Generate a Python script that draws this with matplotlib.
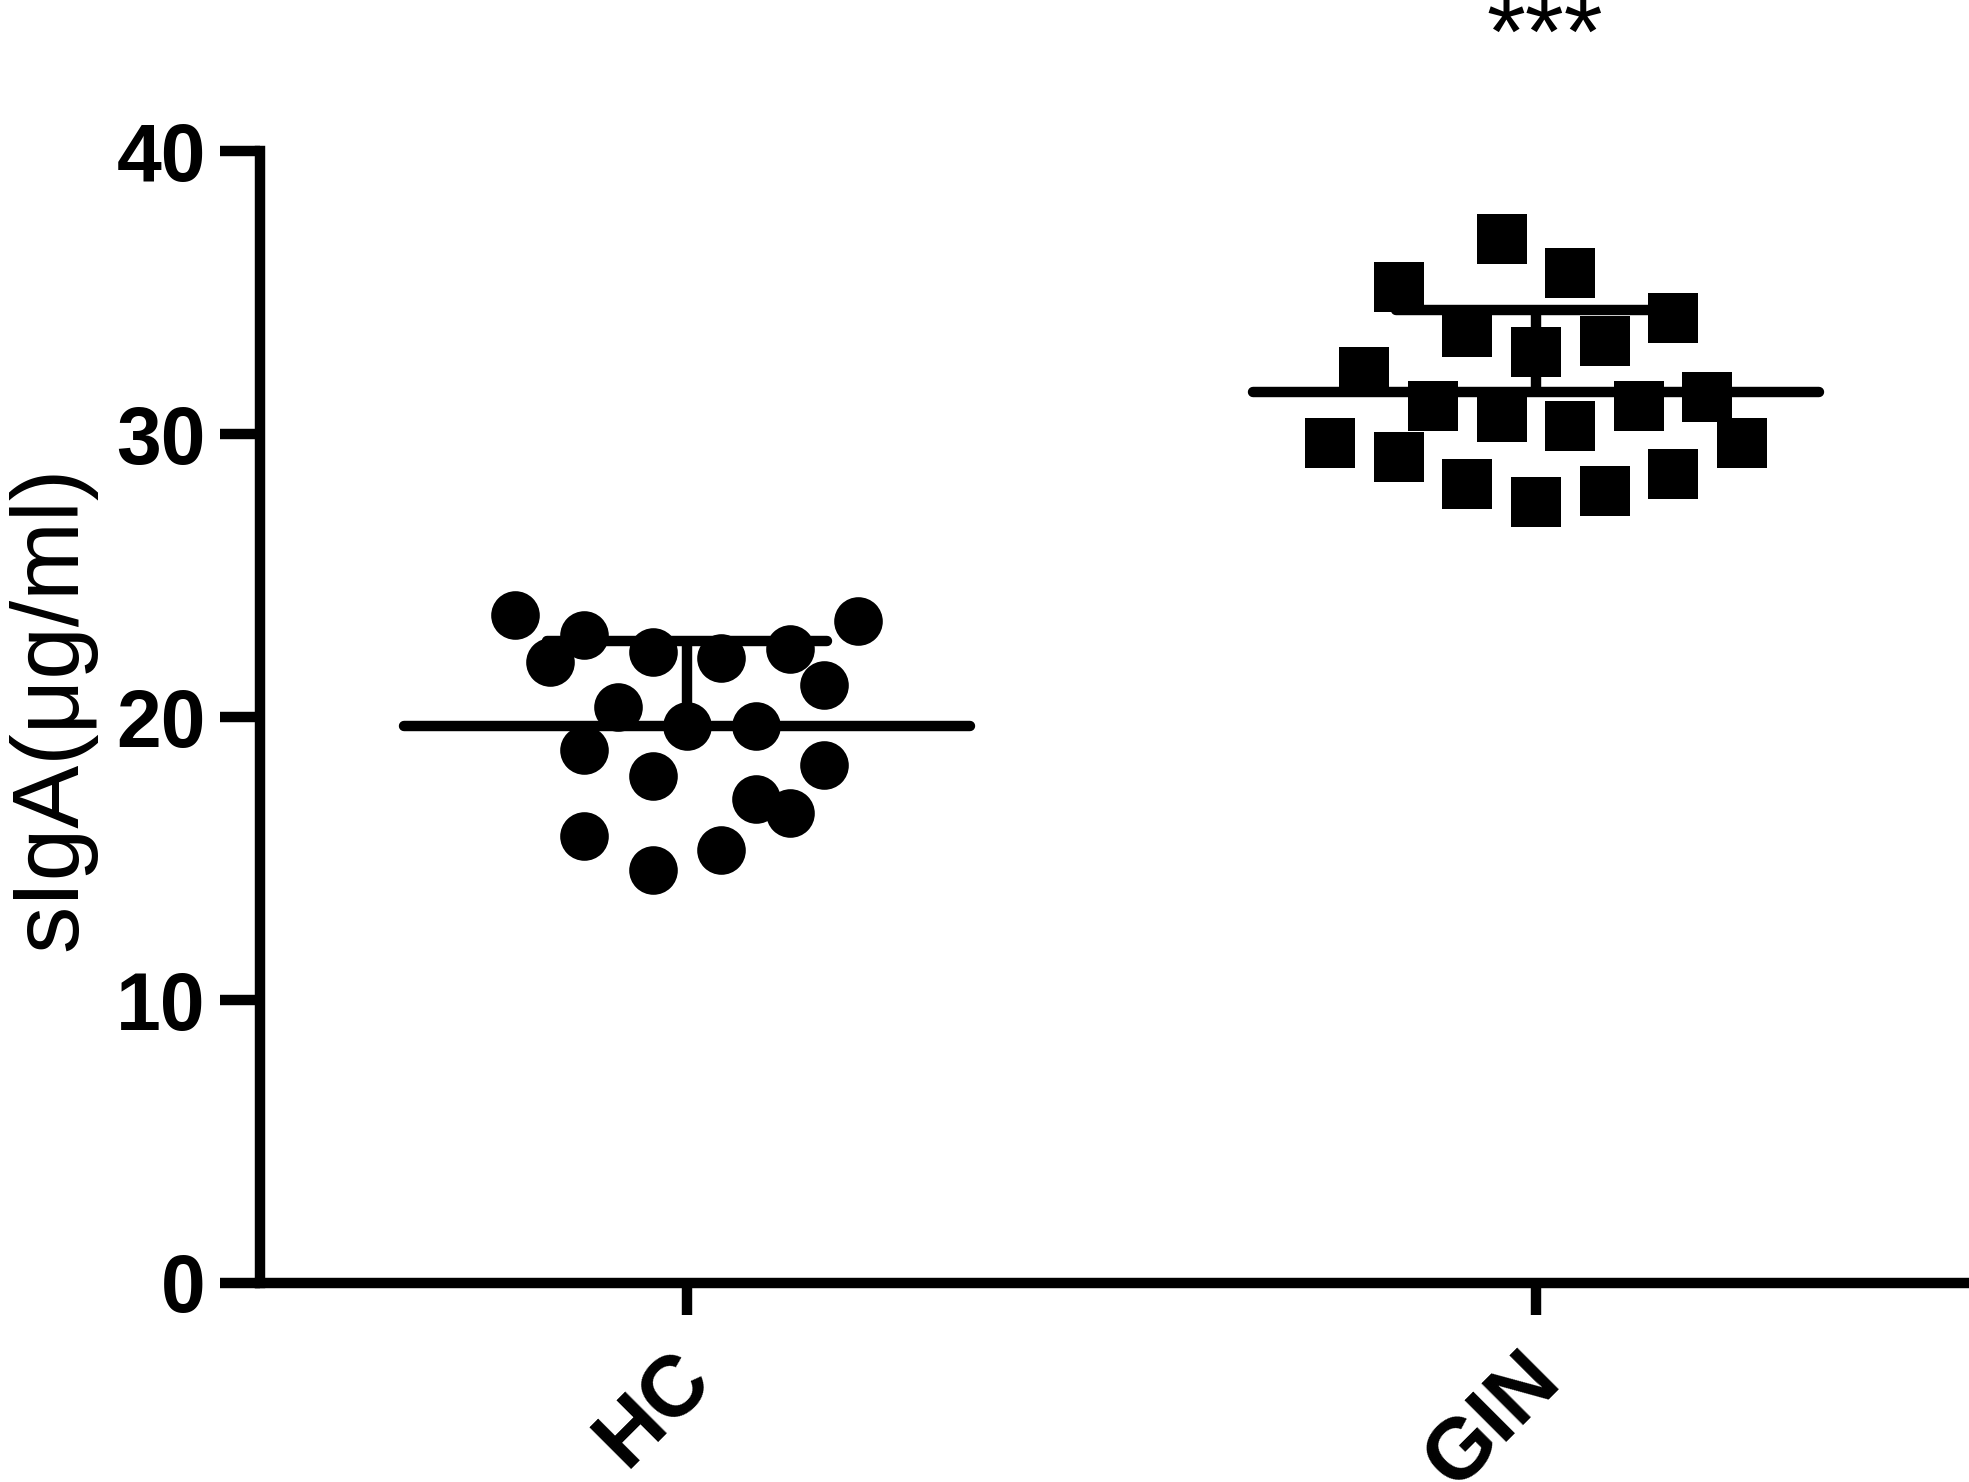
import matplotlib
matplotlib.use("Agg")
import matplotlib.pyplot as plt

OUTPUT_FILE = "out.png"

GROUPS = ["HC", "GIN"]
Y_TICKS = [0, 10, 20, 30, 40]
Y_LABEL = "sIgA(μg/ml)"
SIGNIFICANCE = "***"

# values, with their column slot in the scatter
HC_VALUES = [23.6, 22.9, 21.95, 22.3, 22.1, 22.4, 23.4, 21.15, 20.35, 19.7,
             19.7, 18.85, 18.3, 17.9, 17.1, 16.6, 15.8, 15.3, 14.6]
HC_SLOTS = [-5, -3, -4, -1, 1, 3, 5, 4, -2, 0,
            2, -3, 4, -1, 2, 3, -3, 1, -1]

GIN_VALUES = [36.9, 35.7, 35.2, 34.1, 33.6, 33.3, 32.9, 32.2, 31.0, 30.6,
              30.3, 31.0, 31.3, 29.7, 29.2, 29.7, 28.25, 27.6, 28.0, 28.6]
GIN_SLOTS = [-1, 1, -4, 4, -2, 2, 0, -5, -3, -1,
             1, 3, 5, -6, -4, 6, -2, 0, 2, 4]

# mean and SD as drawn in the figure
GROUP_MEANS = [19.7, 31.5]
GROUP_SDS = [3.0, 2.9]

SLOT_STEP = 0.0404
MEAN_HALF = 0.333
CAP_HALF = 0.165
LINE_W = 7.5


def draw_group(ax, x, values, slots, marker, size, mean, sd):
    xs = [x + s * SLOT_STEP for s in slots]
    ax.plot(xs, values, linestyle="none", marker=marker, markersize=size,
            color="black", markeredgewidth=0, zorder=3)
    ax.hlines(mean, x - MEAN_HALF, x + MEAN_HALF, color="black",
              linewidth=LINE_W, capstyle="round", zorder=2)
    ax.vlines(x, mean, mean + sd, color="black", linewidth=LINE_W, zorder=2)
    ax.hlines(mean + sd, x - CAP_HALF, x + CAP_HALF, color="black",
              linewidth=LINE_W, capstyle="round", zorder=2)


def main():
    plt.rcParams["font.family"] = ["Liberation Sans", "DejaVu Sans"]

    fig = plt.figure(figsize=(19.69, 14.82), dpi=100)
    ax = fig.add_axes([0.132, 0.1343, 0.868, 0.7637])

    draw_group(ax, 1, HC_VALUES, HC_SLOTS, "o", 35,
               GROUP_MEANS[0], GROUP_SDS[0])
    draw_group(ax, 2, GIN_VALUES, GIN_SLOTS, "s", 36,
               GROUP_MEANS[1], GROUP_SDS[1])

    ax.set_xlim(0.497, 2.51)
    ax.set_ylim(0, 40)
    ax.set_yticks(Y_TICKS)
    ax.set_yticklabels([str(t) for t in Y_TICKS], fontsize=58,
                       fontweight="bold")

    # slanted group labels, placed by hand so they can sit a bit right
    ax.set_xticks([1, 2])
    ax.set_xticklabels([])
    for i, name in enumerate(GROUPS):
        ax.annotate(name, xy=(i + 1, 0), xycoords=("data", "axes fraction"),
                    xytext=(8, -60), textcoords="offset points",
                    fontsize=62, fontweight="bold", rotation=45,
                    ha="right", va="center", rotation_mode="anchor",
                    annotation_clip=False)

    for side in ["top", "right"]:
        ax.spines[side].set_visible(False)
    for side in ["left", "bottom"]:
        ax.spines[side].set_linewidth(LINE_W)
    ax.tick_params(axis="y", length=29, width=LINE_W, pad=10)
    ax.tick_params(axis="x", length=23, width=LINE_W)

    fig.text(52 / 1969, 1 - 708 / 1482, Y_LABEL, rotation=90, fontsize=68,
             ha="center", va="center")
    fig.text(1545 / 1969, 1 - 66 / 1482, SIGNIFICANCE, fontsize=72,
             ha="center", va="baseline")

    fig.savefig(OUTPUT_FILE, dpi=100, facecolor="white")
    plt.close(fig)


if __name__ == "__main__":
    main()
